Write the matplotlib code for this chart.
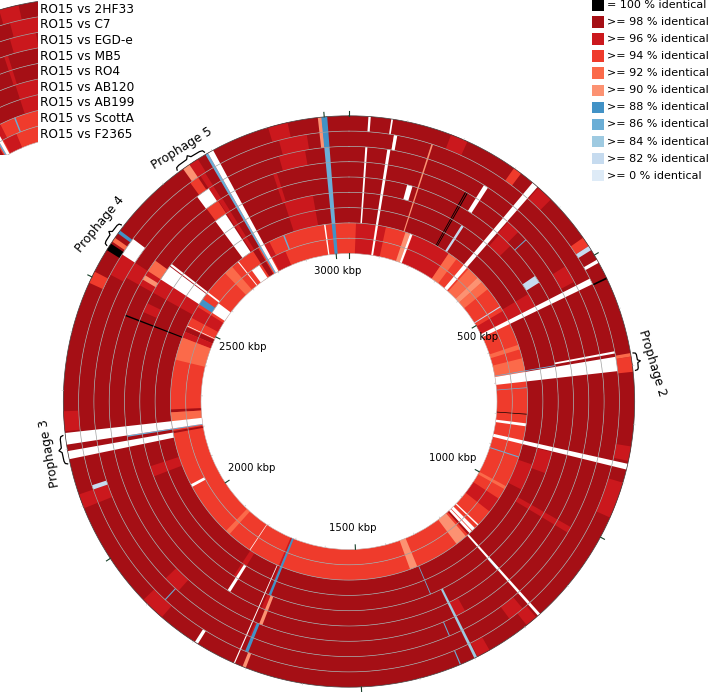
import numpy as np
import matplotlib
matplotlib.use('Agg')
import matplotlib.pyplot as plt
from matplotlib.patches import Rectangle

W, H = 709, 693
GENOME_KBP = 3042

comparisons = ['RO15 vs 2HF33', 'RO15 vs C7', 'RO15 vs EGD-e', 'RO15 vs MB5', 'RO15 vs RO4',
               'RO15 vs AB120', 'RO15 vs AB199', 'RO15 vs ScottA', 'RO15 vs F2365']
legend_labels = ['= 100 % identical', '>= 98 % identical', '>= 96 % identical', '>= 94 % identical',
                 '>= 92 % identical', '>= 90 % identical', '>= 88 % identical', '>= 86 % identical',
                 '>= 84 % identical', '>= 82 % identical', '>= 0 % identical']
legend_colors = ['#000000', '#a50f15', '#cb181d', '#ef3b2c', '#fb6a4a', '#fc9272',
                 '#4292c6', '#6baed6', '#9ecae1', '#c6dbef', '#deebf7']

# ring 0 is the innermost (F2365), ring 8 the outermost (2HF33)
base_level = ['#ef3b2c', '#ef3b2c', '#a50f15', '#a50f15', '#a50f15', '#a50f15', '#a50f15', '#a50f15', '#a50f15']

# segments: (start kbp, end kbp, first ring, last ring)
pct_98 = [(2195, 2201, 0, 1), (2252, 2260, 0, 1), (2839, 2846, 0, 0), (2476, 2490, 0, 1), (2767, 2783, 0, 1),
          (1162, 1168, 0, 1)]
pct_96 = [(19, 72, 0, 1), (79, 101, 0, 1), (177, 287, 0, 1), (503, 531, 0, 1), (1039, 1082, 0, 1),
          (2518, 2552, 0, 1), (2459, 2476, 0, 1), (2805, 2848, 0, 0), (2793, 2818, 1, 1), (1712, 1717, 0, 1),
          (177, 207, 8, 8), (351, 380, 8, 8), (837, 862, 8, 8), (900, 963, 8, 8), (1175, 1196, 8, 8),
          (1272, 1295, 8, 8), (1867, 1910, 8, 8), (2096, 2121, 8, 8), (2231, 2265, 8, 8), (2903, 2937, 8, 8),
          (2096, 2121, 7, 7), (1183, 1213, 7, 7), (2915, 2966, 7, 7), (2518, 2560, 7, 7),
          (490, 524, 6, 6), (1876, 1910, 6, 6), (2907, 2958, 6, 6), (2527, 2560, 6, 6),
          (351, 380, 5, 5), (1276, 1301, 5, 5), (2527, 2560, 5, 5),
          (355, 389, 4, 4), (2480, 2501, 4, 4),
          (499, 532, 3, 3), (879, 930, 3, 3), (1791, 1804, 2, 3), (2104, 2129, 2, 3), (2890, 2958, 2, 3),
          (499, 532, 2, 2), (921, 989, 2, 2), (1707, 1715, 2, 2), (1707, 1715, 4, 4), (1707, 1715, 6, 6),
          (1010, 1022, 3, 6), (2886, 2894, 4, 5), (2755, 2772, 8, 8), (2760, 2770, 6, 7), (2763, 2772, 2, 5),
          (2527, 2560, 2, 4)]
pct_94 = [(2489, 2510, 8, 8), (298, 313, 8, 8), (465, 482, 8, 8), (2738, 2755, 7, 7), (2734, 2762, 5, 5),
          (684, 710, 8, 8)]
pct_92 = [(355, 389, 0, 1), (406, 431, 0, 1), (604, 617, 0, 1), (642, 680, 0, 1), (2227, 2252, 0, 1),
          (2396, 2459, 0, 1), (2670, 2696, 0, 1), (1876, 1889, 0, 1), (287, 313, 0, 1), (2560, 2586, 5, 5),
          (2569, 2577, 8, 8), (678, 684, 8, 8), (1000, 1009, 0, 1)]
pct_90 = [(389, 406, 0, 1), (1331, 1352, 0, 1), (1175, 1208, 0, 1), (156, 169, 0, 1), (2742, 2755, 8, 8),
          (81, 86, 7, 7), (2989, 2996, 7, 8), (1700, 1707, 4, 5), (1700, 1706, 8, 8), (150, 153, 2, 7),
          (2540, 2550, 5, 5)]
pct_88 = [(2995, 3005, 0, 1), (2995, 3005, 7, 8), (1706, 1712, 0, 3), (1706, 1712, 6, 7), (2560, 2577, 1, 1),
          (2586, 2592, 8, 8)]
pct_86 = [(2995, 3005, 2, 6), (2787, 2792, 0, 8), (722, 724, 0, 1), (912, 915, 0, 1), (676, 678, 0, 3),
          (2205, 2208, 0, 4), (2859, 2863, 1, 1), (1882, 1884, 7, 7), (401, 403, 5, 5), (1324, 1326, 6, 6),
          (1326, 1328, 8, 8), (1326, 1328, 2, 3)]
pct_84 = [(1296, 1301, 4, 8), (1166, 1172, 4, 4)]
pct_82 = [(275, 281, 2, 3), (482, 490, 8, 8), (473, 490, 4, 4), (2121, 2129, 7, 7), (488, 491, 0, 1)]
no_match = [(33, 37, 8, 8), (31, 35, 2, 6), (73, 79, 0, 6), (81, 87, 7, 7), (72, 75, 8, 8), (2974, 2978, 0, 1),
            (169, 176, 0, 1), (127, 139, 4, 4), (270, 279, 5, 6), (338, 349, 2, 8), (338, 350, 0, 1),
            (509, 515, 8, 8), (532, 543, 0, 7), (680, 706, 0, 7), (670, 674, 4, 7), (820, 828, 0, 1),
            (867, 877, 0, 8), (1128, 1132, 0, 1), (1142, 1152, 0, 1), (1154, 1162, 0, 1), (1166, 1171, 2, 8),
            (1720, 1722, 2, 8), (1805, 1807, 0, 1), (1791, 1798, 3, 4), (1791, 1797, 8, 8), (2040, 2048, 1, 1),
            (2183, 2197, 2, 8), (2208, 2228, 2, 8), (2208, 2228, 0, 1), (2492, 2494, 0, 1), (2560, 2594, 0, 0),
            (2560, 2594, 2, 4), (2560, 2594, 7, 7), (2596, 2601, 1, 4), (2716, 2719, 0, 1), (2733, 2760, 6, 6),
            (2733, 2760, 2, 4), (2733, 2760, 0, 0), (2792, 2802, 0, 8)]
pct_100 = [(2552, 2565, 8, 8), (543, 546, 8, 8), (794, 796, 0, 1), (2458, 2461, 2, 5), (245, 247, 2, 5), (249, 251, 2, 5)]

scale_ticks = [0, 500, 1000, 1500, 2000, 2500, 3000]
kbp_labels = ['500 kbp', '1000 kbp', '1500 kbp', '2000 kbp', '2500 kbp', '3000 kbp']
kbp_label_px = [(478, 337), (453, 458), (353, 528), (252, 468), (243, 347), (338, 271)]

RI, RO = 148.0, 285.7
STEP = (RO - RI) / 9
AX_R = 300.0


def theta(kbp):
    return np.radians(np.asarray(kbp, dtype=float) * 360.0 / GENOME_KBP)


def ring_axes(cx, cy):
    ax = plt.gcf().add_axes([(cx - AX_R) / W, 1 - (cy + AX_R) / H, 2 * AX_R / W, 2 * AX_R / H],
                            projection='polar')
    ax.set_theta_zero_location('N')
    ax.set_theta_direction(-1)
    ax.set_ylim(0, AX_R)
    ax.axis('off')
    return ax


def draw_rings(ax):
    for i, c in enumerate(base_level):
        ax.bar(0, STEP, width=2 * np.pi, bottom=RI + i * STEP, color=c, lw=0, align='edge')
    layers = [(pct_98, '#a50f15'), (pct_96, '#cb181d'), (pct_94, '#ef3b2c'), (pct_92, '#fb6a4a'), (pct_90, '#fc9272'),
              (pct_88, '#4292c6'), (pct_86, '#6baed6'), (pct_84, '#9ecae1'), (pct_82, '#c6dbef'),
              (no_match, 'white'), (pct_100, 'black')]
    for segs, c in layers:
        for start, end, lo, hi in segs:
            ax.bar(theta(start), (hi - lo + 1) * STEP, width=theta(end) - theta(start), bottom=RI + lo * STEP,
                   color=c, lw=0, align='edge')
    circle = np.linspace(0, 2 * np.pi, 721)
    for i in range(1, 9):
        ax.plot(circle, np.full(721, RI + i * STEP), color='#a0a0a0', lw=0.5)
    ax.plot(circle, np.full(721, RI), color='#c0c0c0', lw=0.4)
    ax.plot(circle, np.full(721, RO), color='#404040', lw=0.5)


fig = plt.figure(figsize=(W / 100, H / 100), dpi=100)

# cropped key next to the comparison names
key = ring_axes(80, 284)
draw_rings(key)
clip = Rectangle((0, 1 - 155 / H), 38 / W, 155 / H, transform=fig.transFigure)
for art in key.patches + key.lines:
    art.set_clip_path(clip)

ax = ring_axes(349, 401.5)
draw_rings(ax)

# scale marks
for k in range(0, GENOME_KBP, 100):
    ax.plot([theta(k)] * 2, [RO, RO + 1.5], color='#bbbbbb', lw=0.4)
    ax.plot([theta(k)] * 2, [RI - 1.5, RI], color='#bbbbbb', lw=0.4)
for k in scale_ticks:
    ax.plot([theta(k)] * 2, [RO, RO + 4.5], color='#17402a', lw=0.8)
    ax.plot([theta(k)] * 2, [RI - 4.5, RI], color='#17402a', lw=0.8)
for lab, (x, y) in zip(kbp_labels, kbp_label_px):
    fig.text(x / W, 1 - y / H, lab, fontsize=7.3, ha='center', va='center')

# prophage braces, (start deg, end deg)
brace_deg = [(80.3, 83.8), (257.5, 263.2), (302.8, 307.8), (323.4, 329.9)]
brace_shape = [(0, 0), (0.03, 2.2), (0.12, 3.0), (0.42, 3.2), (0.5, 6.0), (0.58, 3.2), (0.88, 3.0), (0.97, 2.2), (1, 0)]
for a, b in brace_deg:
    t = np.radians([a + (b - a) * s for s, h in brace_shape])
    ax.plot(t, [RO + 2.5 + h for s, h in brace_shape], color='black', lw=0.9)

prophage_names = ['Prophage 2', 'Prophage 3', 'Prophage 4', 'Prophage 5']
prophage_px = [(652, 363), (50, 453), (100, 224), (182, 148)]
prophage_rot = [-73, 100, 50.5, 31.7]
for name, (x, y), rot in zip(prophage_names, prophage_px, prophage_rot):
    fig.text(x / W, 1 - y / H, name, fontsize=8.7, rotation=rot, ha='center', va='center', rotation_mode='anchor')

# comparison names
for i, name in enumerate(comparisons):
    fig.text(40.5 / W, 1 - (9.2 + i * 15.6) / H, name, fontsize=8.7, va='center')

# identity legend
for i, (lab, c) in enumerate(zip(legend_labels, legend_colors)):
    y = 5 + i * 17.07
    fig.add_artist(Rectangle((592 / W, 1 - (y + 5.8) / H), 11.6 / W, 11.6 / H, color=c, lw=0, transform=fig.transFigure))
    fig.text(606.7 / W, 1 - y / H, lab, fontsize=8, va='center')

fig.savefig('out.png', dpi=100)
